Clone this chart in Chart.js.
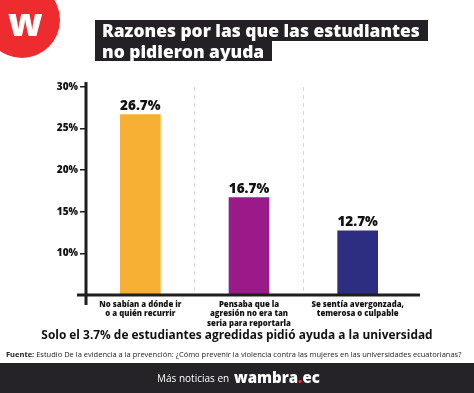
<!DOCTYPE html>
<html><head><meta charset="utf-8">
<script src="https://cdn.jsdelivr.net/npm/chart.js@4/dist/chart.umd.min.js"></script>
<style>
html,body{margin:0;padding:0;background:#fff;width:474px;height:393px;overflow:hidden;font-family:"Open Sans",sans-serif;}
#wrap{position:relative;width:474px;height:393px;}
canvas{position:absolute;left:0;top:0;}
.abs{position:absolute;white-space:nowrap;}
#logo{left:-16px;top:-18px;width:76px;height:76px;border-radius:50%;background:#ee2b2e;}
#logoW{left:8px;top:1px;color:#fff;font:800 38px "Open Sans",sans-serif;line-height:40px;}
.tbox{background:#232126;color:#fff;font:800 17.4px "Open Sans",sans-serif;line-height:20.5px;padding:0 8px 0 7px;}
#t1{left:95px;top:20px;}
#t2{left:95px;top:40.5px;}
#sub{left:0;width:474px;text-align:center;top:326px;font:700 11.9px "Open Sans",sans-serif;color:#111;}
#src{left:6px;top:349px;font:400 7.5px "Open Sans",sans-serif;color:#222;}
#band{left:0;top:363px;width:474px;height:30px;background:#252328;}
#more{left:157px;top:371px;color:#fff;font:400 10px "Open Sans",sans-serif;}
#brand{left:234px;top:365px;color:#fff;font:800 15px "Open Sans",sans-serif;line-height:24px;}
#brand span{color:#ee2b2e;}
</style></head>
<body><div id="wrap">
<canvas id="c" width="474" height="393"></canvas>
<div class="abs" id="logo"></div>
<div class="abs" id="logoW">w</div>
<div class="abs tbox" id="t1">Razones por las que las estudiantes</div>
<div class="abs tbox" id="t2">no pidieron ayuda</div>
<div class="abs" id="sub">Solo el 3.7% de estudiantes agredidas pidió ayuda a la universidad</div>
<div class="abs" id="src"><b>Fuente:</b> Estudio De la evidencia a la prevención: ¿Cómo prevenir la violencia contra las mujeres en las universidades ecuatorianas?</div>
<div class="abs" id="band"></div>
<div class="abs" id="more">Más noticias en</div>
<div class="abs" id="brand">wambra<span>.</span>ec</div>
</div>
<script>
const categories = [
  ["No sabían a dónde ir", "o a quién recurrir"],
  ["Pensaba que la", "agresión no era tan", "seria para reportarla"],
  ["Se sentía avergonzada,", "temerosa o culpable"]
];
const percentages = [26.7, 16.7, 12.7];
const barColors = ["#f7b033", "#9a1a8a", "#2d2d82"];
const yTicks = [5, 10, 15, 20, 25, 30];

const axisLines = {
  id: 'axisLines',
  afterDraw(chart) {
    const {ctx, chartArea: a} = chart;
    ctx.save();
    ctx.strokeStyle = '#1e1e1e';
    ctx.lineWidth = 3;
    ctx.beginPath();
    ctx.moveTo(a.left, a.top - 5);
    ctx.lineTo(a.left, a.bottom + 10);
    ctx.moveTo(a.left - 9, a.bottom);
    ctx.lineTo(a.right + 8, a.bottom);
    ctx.stroke();
    ctx.restore();
  }
};
const valueLabels = {
  id: 'valueLabels',
  afterDatasetsDraw(chart) {
    const {ctx} = chart;
    const meta = chart.getDatasetMeta(0);
    ctx.save();
    ctx.fillStyle = '#111';
    ctx.font = '800 13.5px "Open Sans", sans-serif';
    ctx.textAlign = 'center';
    ctx.textBaseline = 'bottom';
    meta.data.forEach((bar, i) => {
      ctx.fillText(percentages[i].toFixed(1) + '%', bar.x, bar.y - 2);
    });
    ctx.restore();
  }
};

new Chart(document.getElementById('c'), {
  type: 'bar',
  data: {
    labels: categories,
    datasets: [{
      data: percentages,
      backgroundColor: barColors,
      barThickness: 40,
      base: 5
    }]
  },
  options: {
    responsive: false,
    animation: false,
    layout: {padding: {top: 87, left: 0, right: 62, bottom: 0}},
    plugins: {legend: {display: false}, tooltip: {enabled: false}},
    scales: {
      x: {
        afterFit(s) { s.height = 98; },
        grid: {
          color: c => (c.type !== 'tick' || c.index === 0) ? 'rgba(0,0,0,0)' : '#d8d8d8',
          drawTicks: false,
          lineWidth: 1
        },
        border: {display: false, dash: [4, 4]},
        ticks: {
          color: '#111',
          font: {family: '"Open Sans", sans-serif', size: 7.8, weight: '800', lineHeight: 1.2},
          padding: 5,
          maxRotation: 0,
          autoSkip: false
        }
      },
      y: {
        min: 5, max: 30,
        afterFit(s) { s.width = 86; },
        afterBuildTicks(s) { s.ticks = yTicks.map(v => ({value: v})); },
        grid: {drawOnChartArea: false, tickLength: 6, tickColor: c => c.tick && c.tick.value === 5 ? 'rgba(0,0,0,0)' : '#1e1e1e', lineWidth: 1.5},
        border: {display: false},
        ticks: {
          color: '#111',
          padding: 2,
          font: {family: '"Open Sans", sans-serif', size: 10, weight: '800'},
          callback: v => v === 5 ? '' : v + '%'
        }
      }
    }
  },
  plugins: [axisLines, valueLabels]
});
</script>
</body></html>
